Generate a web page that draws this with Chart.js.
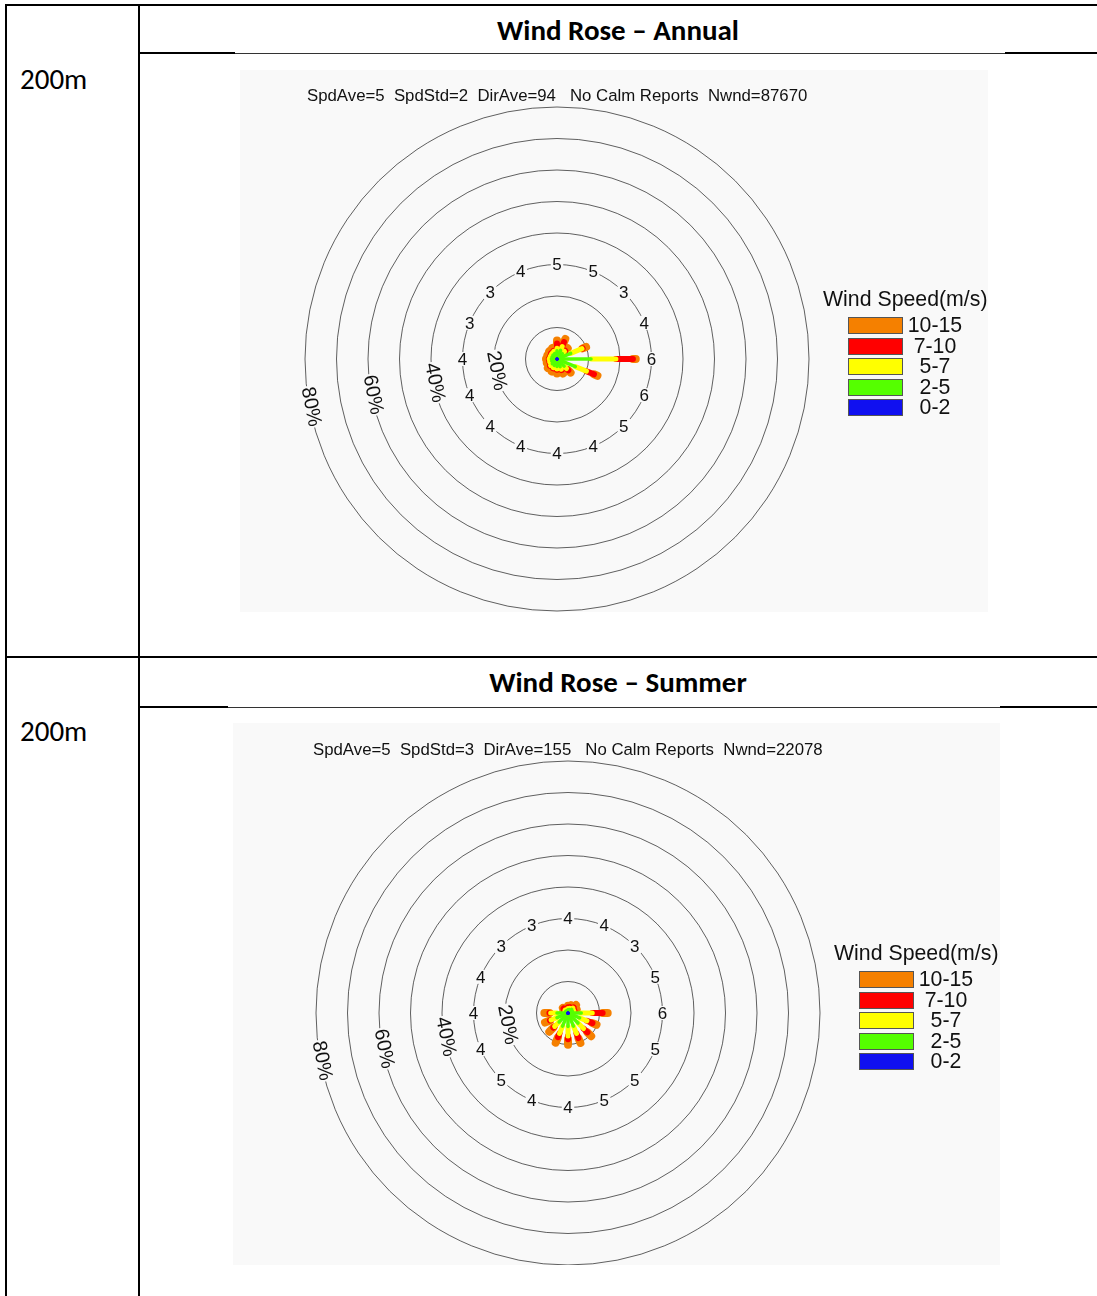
<!DOCTYPE html>
<html><head><meta charset="utf-8">
<script src="https://cdn.jsdelivr.net/npm/chart.js@4/dist/chart.umd.min.js"></script>
<style>
html,body{margin:0;padding:0;background:#fff;}
body{width:1097px;height:1296px;overflow:hidden;position:relative;}
.ln{position:absolute;background:#000;}
.hdr{position:absolute;left:139px;width:958px;height:48px;display:flex;align-items:center;justify-content:center;font-family:Carlito,Lato,"Open Sans",sans-serif;font-weight:700;font-size:29px;color:#000;}
.lab{position:absolute;left:20px;font-family:Carlito,Lato,"Open Sans",sans-serif;font-size:29px;color:#000;line-height:29px;}
.panel{position:absolute;background:#f9f9f9;}
.panel canvas{position:absolute;left:0;top:0;}
.stat{position:absolute;font-family:"Liberation Sans",Arial,sans-serif;font-size:16.8px;line-height:16.8px;white-space:pre;color:#111;}
.lgt{position:absolute;font-family:"Liberation Sans",Arial,sans-serif;font-size:21.3px;line-height:21.3px;white-space:pre;color:#111;}
.lgb{position:absolute;width:55px;height:17px;box-sizing:border-box;border:1px solid #555;}
.lgl{position:absolute;width:80px;height:17px;text-align:center;font-family:"Liberation Sans",Arial,sans-serif;font-size:21.3px;line-height:17px;color:#111;}
</style></head>
<body>
<!-- table rules -->
<div class="ln" style="left:6px;top:4px;width:1091px;height:2px"></div>
<div class="ln" style="left:5px;top:4px;width:2px;height:1292px"></div>
<div class="ln" style="left:138px;top:4px;width:2px;height:1292px"></div>
<div class="ln" style="left:139px;top:52px;width:96px;height:2px"></div>
<div class="ln" style="left:235px;top:53px;width:770px;height:1px;background:#333"></div>
<div class="ln" style="left:1005px;top:52px;width:92px;height:2px"></div>
<div class="ln" style="left:6px;top:656px;width:1091px;height:2px"></div>
<div class="ln" style="left:139px;top:706px;width:89px;height:2px"></div>
<div class="ln" style="left:228px;top:707px;width:772px;height:1px;background:#333"></div>
<div class="ln" style="left:1000px;top:706px;width:97px;height:2px"></div>

<div class="hdr" style="top:6px">Wind Rose – Annual</div>
<div class="hdr" style="top:658px">Wind Rose – Summer</div>
<div class="lab" style="top:65px">200m</div>
<div class="lab" style="top:717px">200m</div>

<div class="panel" id="pA" style="left:240px;top:70px;width:748px;height:542px"><canvas id="cA" width="748" height="542"></canvas></div>
<div class="panel" id="pS" style="left:233px;top:723px;width:767px;height:542px"><canvas id="cS" width="767" height="542"></canvas></div>

<script>
// ---------- data ----------
const directions = ['N','NNE','NE','ENE','E','ESE','SE','SSE','S','SSW','SW','WSW','W','WNW','NW','NNW'];
const speedClasses = ['0-2','2-5','5-7','7-10','10-15'];
const classColors = ['#1010f0','#55ff00','#ffff00','#ff0000','#f58000'];
const percentRings = [20, 40, 60, 80];

const annualStats = 'SpdAve=5  SpdStd=2  DirAve=94   No Calm Reports  Nwnd=87670';
const annualMeanSpeed = [5,5,3,4,6,6,5,4,4,4,4,4,4,3,3,4];
const annual_0_2   = [0.2,0.2,0.2,0.2,0.3,0.3,0.2,0.2,0.2,0.2,0.2,0.2,0.2,0.2,0.2,0.2];
const annual_2_5   = [2.4,2.8,2.2,4.5,10.5,6.0,3.0,2.4,2.2,2.0,1.9,1.6,1.6,1.5,1.6,1.7];
const annual_5_7   = [0.8,1.3,1.0,3.9,7.9,3.8,1.1,0.9,0.8,0.8,0.8,0.7,0.7,0.6,0.6,0.7];
const annual_7_10  = [1.5,1.5,0.3,0.2,5.4,2.6,0.8,0.3,0.2,0.2,0.2,0.1,0.1,0.1,0.2,0.2];
const annual_10_15 = [1.0,1.1,1.1,1.2,0.9,1.2,1.0,1.2,1.2,1.1,1.0,0.9,0.9,0.9,0.9,1.0];

const summerStats = 'SpdAve=5  SpdStd=3  DirAve=155   No Calm Reports  Nwnd=22078';
const summerMeanSpeed = [4,4,3,5,6,5,5,5,4,4,5,4,4,4,3,3];
const summer_0_2   = [0.2,0.2,0.2,0.2,0.3,0.3,0.3,0.3,0.3,0.3,0.3,0.3,0.3,0.2,0.2,0.2];
const summer_2_5   = [0.8,1.0,1.4,1.3,3.9,3.7,4.2,4.2,4.0,4.2,3.7,3.5,3.2,0.6,0.7,0.6];
const summer_5_7   = [0.4,0.4,0.6,0.5,3.5,2.5,2.5,2.5,3.0,2.5,2.0,2.0,2.0,0.3,0.4,0.3];
const summer_7_10  = [0.4,0.4,0.3,0.2,3.3,1.9,1.7,1.6,1.0,1.3,0.6,0.4,0.4,0.2,0.7,0.3];
const summer_10_15 = [0.5,0.7,1.1,0.8,1.6,1.4,1.7,1.7,1.8,1.9,1.8,1.7,1.6,0.3,0.3,0.3];

// ---------- drawing ----------
const BG = '#f9f9f9';
const rosePlugin = {
  id: 'rose',
  afterDatasetsDraw(chart, args, o) {
    const s = chart.scales.r, ctx = chart.ctx;
    ctx.save();
    ctx.textAlign = 'center'; ctx.textBaseline = 'middle';
    // mean speed ring
    ctx.font = o.numFont;
    o.speeds.forEach((v, i) => {
      const p = s.getPointPositionForValue(i, o.speedRing);
      const t = String(v), w = ctx.measureText(t).width;
      ctx.fillStyle = BG; ctx.fillRect(p.x - w/2 - 1.5, p.y - 7, w + 3, 14);
      ctx.fillStyle = '#111'; ctx.fillText(t, p.x, p.y + 1);
    });
    // percent labels
    ctx.font = o.pctFont;
    o.rings.forEach(v => {
      const p = s.getPointPosition(o.pctIndex, s.getDistanceFromCenterForValue(v - o.pctInset));
      ctx.save(); ctx.translate(p.x, p.y); ctx.rotate(p.angle - Math.PI/2);
      const t = v + '%', w = ctx.measureText(t).width;
      ctx.fillStyle = BG; ctx.fillRect(-w/2 - 1, -8, w + 2, 16);
      ctx.fillStyle = '#111'; ctx.fillText(t, 0, 1);
      ctx.restore();
    });
    // rays (outer classes first)
    const ds = chart.data.datasets;
    ctx.lineCap = 'round';
    for (let k = ds.length - 1; k >= 0; k--) {
      ctx.strokeStyle = ds[k].rayColor; ctx.lineWidth = o.widths[k];
      ds[k].data.forEach((end, i) => {
        const start = k > 0 ? ds[k-1].data[i] : 0;
        if (end <= start) return;
        const a = s.getPointPositionForValue(i, start), b = s.getPointPositionForValue(i, end);
        ctx.beginPath(); ctx.moveTo(a.x, a.y); ctx.lineTo(b.x, b.y); ctx.stroke();
      });
    }
    ctx.restore();
  }
};

function cumulative(classes) {
  const out = []; let run = directions.map(() => 0);
  classes.forEach(c => { run = run.map((v, i) => v + c[i]); out.push(run.slice()); });
  return out;
}

function makeRose(canvasId, panelId, classes, speeds, stats, pad) {
  const cum = cumulative(classes);
  const chart = new Chart(document.getElementById(canvasId), {
    type: 'radar',
    data: {
      labels: directions,
      datasets: speedClasses.map((lab, k) => ({
        label: lab, data: cum[k], rayColor: classColors[k],
        borderColor: 'rgba(0,0,0,0)', backgroundColor: 'rgba(0,0,0,0)',
        borderWidth: 0, pointRadius: 0, showLine: false, fill: false
      }))
    },
    options: {
      responsive: false, animation: false, events: [],
      layout: { padding: pad },
      plugins: {
        legend: { display: false }, tooltip: { enabled: false },
        rose: { speeds, speedRing: 30, rings: percentRings, pctIndex: 259/22.5, pctInset: 0.7,
                numFont: '17px "Liberation Sans", Arial, sans-serif',
                pctFont: '20px "Liberation Sans", Arial, sans-serif',
                widths: [2, 3.5, 5, 6, 8] }
      },
      scales: {
        r: {
          min: 0, max: 80,
          ticks: { display: false, stepSize: 10 },
          grid: { circular: true, color: 'rgba(0,0,0,0.62)', lineWidth: 1 },
          angleLines: { display: false },
          pointLabels: { display: false }
        }
      }
    },
    plugins: [rosePlugin]
  });
  // title line + legend placed from the scale centre
  const s = chart.scales.r, cx = s.xCenter, cy = s.yCenter;
  const panel = document.getElementById(panelId);
  const st = document.createElement('div');
  st.className = 'stat'; st.textContent = stats; panel.appendChild(st);
  st.style.left = (cx - st.offsetWidth / 2) + 'px'; st.style.top = (cy - 271) + 'px';
  const lt = document.createElement('div');
  lt.className = 'lgt'; lt.textContent = 'Wind Speed(m/s)';
  lt.style.left = (cx + 266) + 'px'; lt.style.top = (cy - 70) + 'px'; panel.appendChild(lt);
  for (let k = speedClasses.length - 1, row = 0; k >= 0; k--, row++) {
    const top = cy - 42 + row * 20.5;
    const b = document.createElement('div'); b.className = 'lgb';
    b.style.left = (cx + 291) + 'px'; b.style.top = top + 'px'; b.style.background = classColors[k];
    panel.appendChild(b);
    const l = document.createElement('div'); l.className = 'lgl'; l.textContent = speedClasses[k];
    l.style.left = (cx + 378 - 40) + 'px'; l.style.top = top + 'px';
    panel.appendChild(l);
  }
  return chart;
}

makeRose('cA', 'pA', [annual_0_2, annual_2_5, annual_5_7, annual_7_10, annual_10_15],
         annualMeanSpeed, annualStats, { left: 65, top: 37, right: 179, bottom: 1 });
makeRose('cS', 'pS', [summer_0_2, summer_2_5, summer_5_7, summer_7_10, summer_10_15],
         summerMeanSpeed, summerStats, { left: 83, top: 38, right: 180, bottom: 0 });
</script>
</body></html>
